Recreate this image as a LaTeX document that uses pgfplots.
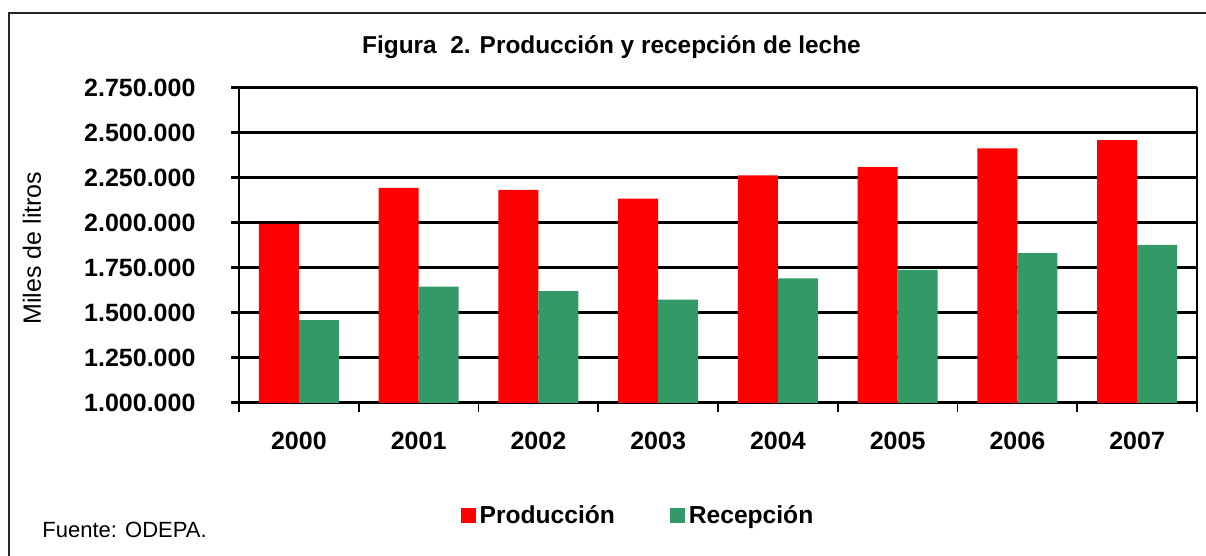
\documentclass[border=0pt]{standalone}
\usepackage{fontspec}
\setmainfont{Liberation Sans}
\usepackage{pgfplots}
\pgfplotsset{compat=1.18}
\definecolor{prodred}{HTML}{FF0000}
\definecolor{recgreen}{HTML}{339966}
\begin{document}
\begin{tikzpicture}
\useasboundingbox (0,0) rectangle (603pt,278pt);
\draw[line width=1pt, black!85] (4.5pt,-20pt) -- (4.5pt,271.5pt) -- (620pt,271.5pt);
\node[font=\fontsize{12.2}{14}\selectfont\bfseries] at (305.75pt,254.5pt) {Figura\ \ 2. Producción y recepción de leche};
\node[rotate=90, font=\fontsize{12.5}{14}\selectfont] at (16pt,154pt) {Miles de litros};
\node[anchor=west, inner sep=0pt, font=\fontsize{11}{13}\selectfont] at (21pt,13pt) {Fuente: ODEPA.};
\begin{axis}[
  at={(119.5pt,76.5pt)}, anchor=south west,
  scale only axis, width=479pt, height=157.5pt,
  ybar, bar width=20pt, ybar=0pt,
  xmin=-0.5, xmax=7.5, ymin=1000000, ymax=2750000,
  xtick={0,...,7},
  xticklabels={2000,2001,2002,2003,2004,2005,2006,2007},
  minor xtick={-0.5,0.5,...,7.5},
  ytick={1000000,1250000,1500000,1750000,2000000,2250000,2500000,2750000},
  yticklabels={1.000.000,1.250.000,1.500.000,1.750.000,2.000.000,2.250.000,2.500.000,2.750.000},
  scaled y ticks=false,
  xtick pos=bottom, ytick pos=left,
  tick align=outside,
  major tick length=3.75pt, minor tick length=4.5pt,
  major x tick style={draw=none},
  xtick style={line width=0.8pt, black},
  ytick style={line width=1.5pt, black},
  ymajorgrids, grid style={black, line width=1.5pt},
  axis line style={black, line width=0.8pt},
  tick label style={font=\fontsize{12.5}{14}\selectfont\bfseries},
  yticklabel style={xshift=-14.5pt},
  xticklabel style={yshift=-7pt},
  legend style={at={(0.4175,-0.3587)}, anchor=center, draw=none, fill=none,
    legend columns=2, font=\fontsize{12.3}{14}\selectfont\bfseries,
    /tikz/every even column/.append style={column sep=25.5pt},
    legend cell align=left, inner sep=0pt},
  legend image code/.code={\fill[#1] (0pt,-3.75pt) rectangle (7.5pt,3.75pt);},
]
\addplot[fill=prodred, draw=none] coordinates {
 (0,1995000) (1,2195000) (2,2184000) (3,2135000) (4,2264000) (5,2310000) (6,2415000) (7,2461000)};
\addplot[fill=recgreen, draw=none] coordinates {
 (0,1460000) (1,1647000) (2,1622000) (3,1574000) (4,1692000) (5,1740000) (6,1833000) (7,1878000)};
\legend{Producción,Recepción}
\end{axis}
\end{tikzpicture}
\end{document}
